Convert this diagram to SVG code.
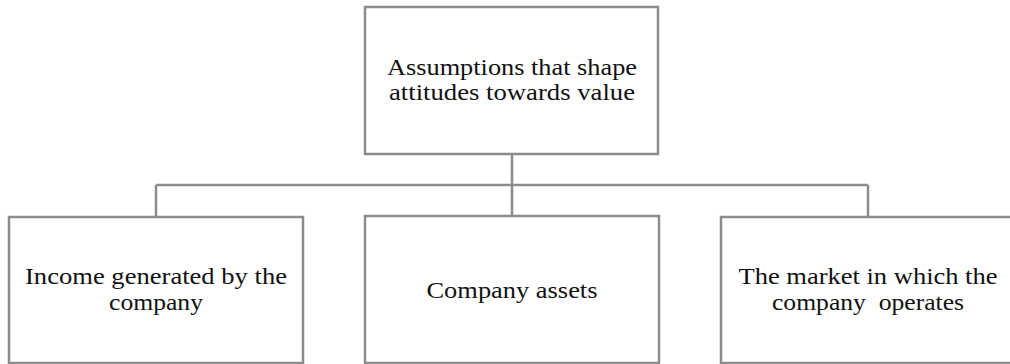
<svg xmlns="http://www.w3.org/2000/svg" width="1010" height="364" viewBox="0 0 1010 364">
<style>
.box{fill:#fff;stroke:#8c8c8c;stroke-width:2.5}
.conn{fill:none;stroke:#8c8c8c;stroke-width:2.5}
text{font-family:"Liberation Serif","Times New Roman",serif;font-size:24px;fill:#111;text-anchor:middle}
</style>
<rect width="1010" height="364" fill="#fff"/>
<g id="connectors">
<path class="conn" d="M512 154 V185 M156 185 H868 M156 185 V217 M512 185 V216 M868 185 V217"/>
</g>
<g id="top">
<rect class="box" x="365" y="7" width="293" height="147"/>
<text x="512" y="75" textLength="250" lengthAdjust="spacingAndGlyphs">Assumptions that shape</text>
<text x="512" y="100" textLength="246" lengthAdjust="spacingAndGlyphs">attitudes towards value</text>
</g>
<g id="income">
<rect class="box" x="9" y="217" width="294" height="146"/>
<text x="156" y="284" textLength="262" lengthAdjust="spacingAndGlyphs">Income generated by the</text>
<text x="156" y="310" textLength="94" lengthAdjust="spacingAndGlyphs">company</text>
</g>
<g id="assets">
<rect class="box" x="365" y="216" width="294" height="147"/>
<text x="512" y="298" textLength="171" lengthAdjust="spacingAndGlyphs">Company assets</text>
</g>
<g id="market">
<rect class="box" x="721" y="217" width="294" height="146"/>
<text x="868" y="284" textLength="259" lengthAdjust="spacingAndGlyphs">The market in which the</text>
<text x="868" y="310" textLength="192" lengthAdjust="spacingAndGlyphs" xml:space="preserve">company  operates</text>
</g>
</svg>
